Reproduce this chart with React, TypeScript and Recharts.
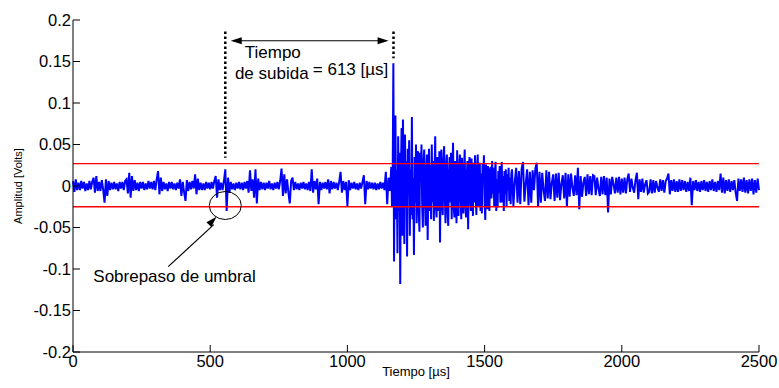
import React from 'react';
import { LineChart, Line, XAxis, YAxis, ReferenceLine, ReferenceDot } from 'recharts';

// amplitud en mV antes de la llegada: 0..1155 µs, cada 5 µs (una fila = 100 µs)
const ruidoInicialMv = [
  6, -7, 8, -5, 4, -5, 6, -3, 5, -6, 3, -5, 6, -4, 5, 10, -8, 12, -6, 5,
  -6, 7, -4, -20, 8, -12, 6, -5, 4, -4, 5, -4, 3, -6, 5, -3, 5, -5, 6, 8,
  -9, 16, -14, 12, -6, 7, -5, 4, -6, 5, -3, 5, -5, 3, -4, 6, -3, 5, -4, 6,
  -5, 8, 18, -10, 10, -6, 5, -4, 3, -6, 5, -3, 5, -4, 3, -5, 4, -3, 8, -12,
  5, -8, -18, 7, -6, 5, -4, 6, -3, 14, -10, 9, -5, 4, -5, 3, -5, 5, -3, 4,
  -4, 5, -3, 6, 12, -14, 8, -5, 4, -5, 6, 20, -30, 10, -8, 5, -4, 3, -5, 4,
  -3, 5, -4, 4, -5, 5, -3, 6, -8, 19, -6, 8, -14, 20, -21, 9, -5, 5, -4, 4,
  -5, 4, -3, 6, -4, 3, -5, 4, -3, 5, -4, 6, 21, -12, 14, -9, 8, -8, -21, 6,
  10, -5, 5, -4, 3, -5, 4, -3, 5, -4, 3, -5, 5, -6, 20, -8, 6, -4, 9, -22,
  5, -5, 4, -3, 5, -4, 8, -9, 6, -4, 5, -3, 4, -5, 5, 17, -8, 6, -5, 5,
  -24, 7, -5, 4, -3, 5, -4, 3, -5, 4, -3, 5, 13, -22, 6, -4, 5, -3, 4, -4,
  4, -5, 3, -4, 5, -3, 4, -5, 17, -22, 10, -6,
];

// ráfaga: 1160..1597.5 µs, cada 2.5 µs (una fila = 50 µs)
const rafagaMv = [
  23, -25, 10, 148, -91, 30, 85, -40, 20, -81, 60, -30, 40, -118, 15, 70, -60, 80, -20, -70,
  62, -25, 30, -85, 45, -10, 55, -60, 20, -35, 83, -40, 10, -83, 35, -20, 50, -45, 25, 42,
  -30, -55, 40, 10, 50, -25, -50, 30, 44, -15, -48, 20, 38, -65, 5, 45, -30, 25, -40, 50,
  -20, 30, -42, 10, 60, -25, -38, 35, 15, -30, 42, -68, 20, 44, -25, -35, 30, 48, -10, -45,
  25, 38, -30, -48, 15, 35, -20, 40, -40, 10, 52, -25, -38, 30, 5, -45, 43, -15, -36, 25,
  38, -10, -40, 34, 5, -33, 20, 44, -25, -38, 12, 30, -52, 20, 35, -15, -30, 33, -5, -36,
  28, -20, 37, -10, -35, 20, 38, -25, -12, 28, -30, 15, -33, 27, 5, 37, -20, -41, 26, 10,
  -28, 24, -5, -30, 20, 23, -15, 30, -10, 22, -25, 15, 29, -30, 8, -26, 18, -8, 24, -20,
  5, 29, -20, 12, -30, 18, -10, 20, -25, 14, -5, 22, -18, 10, -22, 15,
];

// cola: 1600..2500 µs, cada 5 µs (una fila = 100 µs)
const colaMv = [
  20, -24, 5, 22, -20, 18, -22, 21, 29, -19, 3, 20, -23, 17, -20, 19, -5, 21, 28, -25,
  17, -20, 16, -5, -18, 19, -15, 17, -16, 4, 14, -18, 15, -14, 16, -17, 3, 13, -15, 16,
  -25, 14, -13, 15, -2, -12, 13, -11, 22, -28, 12, -13, 4, 11, -12, 14, -10, 12, -11, 13,
  12, -11, 10, -3, -12, 11, -10, 12, -11, 10, -32, 9, -10, 11, 2, -9, 10, -8, 11, -10,
  9, -8, 10, -9, 8, 15, -7, 9, -2, -8, 7, 16, -16, 8, -7, 9, -8, 2, 7, -9,
  -7, 8, -9, 7, -8, 6, -2, -7, 8, -6, 7, -8, 6, 9, 15, -10, 7, -6, 8, -7,
  6, -7, 8, -6, 7, -5, 6, -7, 5, -6, 10, -23, 6, -5, 7, -6, 5, -7, 6, -5,
  7, -6, 5, -7, 6, -5, 8, -6, 5, -7, 6, -5, 15, -8, 10, -9, 7, -6, 8, -7,
  6, -5, 7, -8, -18, 9, -6, 8, -7, 10, -8, 7, -9, 8, -6, 9, -10, 7, -8, 9,
  -5,
];

const xTicks = [0, 500, 1000, 1500, 2000, 2500];
const yTicks = [-0.2, -0.15, -0.1, -0.05, 0, 0.05, 0.1, 0.15, 0.2];
const umbrales = [0.027, -0.025];

// instantes de cruce de umbral y de llegada de la onda (µs)
const tCruce = 555;
const tLlegada = 1168;

const FONT = '"Liberation Sans", Arial, Helvetica, sans-serif';

const tramo = (mv: number[], t0: number, paso: number) =>
  mv.map((m, i) => ({ t: t0 + i * paso, v: m / 1000 }));

const data = [
  ...tramo(ruidoInicialMv, 0, 5),
  ...tramo(rafagaMv, 1160, 2.5),
  ...tramo(colaMv, 1600, 5),
];

const flecha = (angle: number) => (p: any) => (
  <polygon
    points={`${p.cx},${p.cy} ${p.cx - 11},${p.cy - 3.5} ${p.cx - 11},${p.cy + 3.5}`}
    transform={`rotate(${angle} ${p.cx} ${p.cy})`}
    fill="#000"
  />
);

const texto = (txt: string) => (p: any) => (
  <text x={p.cx} y={p.cy} fontSize={17} fontFamily={FONT} fill="#000">
    {txt}
  </text>
);

const elipse = (p: any) => (
  <ellipse cx={p.cx} cy={p.cy} rx={16} ry={14} fill="none" stroke="#000" strokeWidth={1} />
);

export default function App() {
  return (
    <div style={{ position: 'absolute', left: 0, top: 0, width: 779, height: 388, background: '#fff' }}>
      <LineChart width={779} height={388} data={data} margin={{ top: 20, right: 20, left: 13, bottom: 6 }}>
        <XAxis
          dataKey="t"
          type="number"
          domain={[0, 2500]}
          ticks={xTicks}
          interval={0}
          tickSize={-7}
          tickMargin={10}
          height={30}
          stroke="#000"
          tick={{ fill: '#000', fontSize: 16.5, fontFamily: FONT }}
          label={{ value: 'Tiempo [µs]', position: 'insideBottom', offset: 6, fontSize: 13, fill: '#000', fontFamily: FONT }}
        />
        <XAxis xAxisId="top" orientation="top" type="number" domain={[0, 2500]} ticks={xTicks}
          tick={false} tickSize={-6} height={0} stroke="#000" />
        <YAxis
          type="number"
          domain={[-0.2, 0.2]}
          ticks={yTicks}
          interval={0}
          tickSize={-7}
          tickMargin={9}
          width={60}
          stroke="#000"
          tick={{ fill: '#000', fontSize: 16.5, fontFamily: FONT }}
          label={{ value: 'Amplitud [Volts]', angle: -90, position: 'insideLeft', offset: 5, fontSize: 11, fill: '#000', fontFamily: FONT, textAnchor: 'middle' }}
        />
        <YAxis yAxisId="right" orientation="right" type="number" domain={[-0.2, 0.2]} ticks={yTicks}
          tick={false} tickSize={-7} width={0} stroke="#000" />
        <Line dataKey="v" type="linear" stroke="#0000ff" strokeWidth={2} strokeLinejoin="miter" dot={false} isAnimationActive={false} />
        {umbrales.map((u) => (
          <ReferenceLine key={u} y={u} stroke="#ff0000" strokeWidth={1.3} />
        ))}
        <ReferenceLine segment={[{ x: tCruce, y: 0.186 }, { x: tCruce, y: 0.034 }]} stroke="#000" strokeWidth={2.5} strokeDasharray="2.5 2.5" />
        <ReferenceLine segment={[{ x: tLlegada, y: 0.186 }, { x: tLlegada, y: 0.154 }]} stroke="#000" strokeWidth={2.5} strokeDasharray="2.5 2.5" />
        <ReferenceLine segment={[{ x: 585, y: 0.175 }, { x: 1140, y: 0.175 }]} stroke="#000" strokeWidth={1.2} />
        <ReferenceDot x={575} y={0.175} shape={flecha(180)} />
        <ReferenceDot x={1150} y={0.175} shape={flecha(0)} />
        <ReferenceDot x={626} y={0.1546} shape={texto('Tiempo')} />
        <ReferenceDot x={590} y={0.1289} shape={texto('de subida')} />
        <ReferenceDot x={874} y={0.1337} shape={texto('= 613 [µs]')} />
        <ReferenceDot x={tCruce} y={-0.0235} shape={elipse} />
        <ReferenceLine segment={[{ x: 347, y: -0.0972 }, { x: 513, y: -0.0465 }]} stroke="#000" strokeWidth={1.2} />
        <ReferenceDot x={523} y={-0.037} shape={flecha(-46)} />
        <ReferenceDot x={74} y={-0.1153} shape={texto('Sobrepaso de umbral')} />
      </LineChart>
    </div>
  );
}
